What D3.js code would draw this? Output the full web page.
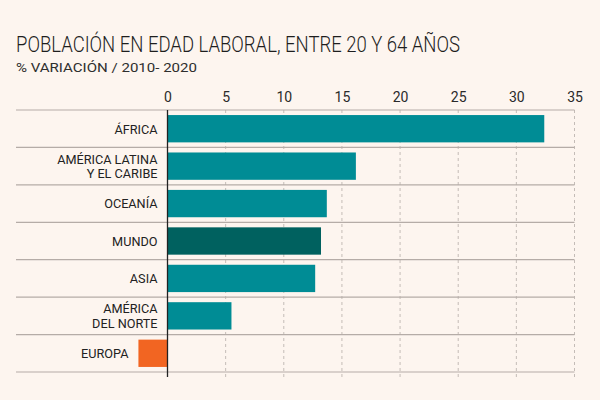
<!DOCTYPE html>
<html>
<head>
<meta charset="utf-8">
<script src="https://cdn.jsdelivr.net/npm/d3@7"></script>
<style>
  html, body { margin: 0; padding: 0; background: #fdf5ef; }
  svg { display: block; }
  text { font-family: "Roboto", "Liberation Sans Narrow", sans-serif; }
</style>
</head>
<body>
<svg id="chart" width="600" height="400"></svg>
<script>
// Data
const categories = ["ÁFRICA", "AMÉRICA LATINA\nY EL CARIBE", "OCEANÍA", "MUNDO", "ASIA", "AMÉRICA\nDEL NORTE", "EUROPA"];
const values = [32.4, 16.2, 13.7, 13.2, 12.7, 5.5, -2.5];
const barColors = ["#008c95", "#008c95", "#008c95", "#00615f", "#008c95", "#008c95", "#f26522"];
const tickValues = [0, 5, 10, 15, 20, 25, 30, 35];
const title = "POBLACIÓN EN EDAD LABORAL, ENTRE 20 Y 64 AÑOS";
const subtitle = "% VARIACIÓN / 2010- 2020";

const svg = d3.select("#chart");
svg.append("rect").attr("width", 600).attr("height", 400).attr("fill", "#fdf5ef");

const x = d3.scaleLinear().domain([0, 35]).range([167.5, 574.5]);
const p = 0.27;
const y = d3.scaleBand().domain(categories).range([110, 372]).paddingInner(p).paddingOuter(p / 2);
const step = y.step();

// Title
svg.append("text")
  .attr("x", 16).attr("y", 52)
  .attr("font-size", 22.5).attr("font-weight", 300)
  .attr("fill", "#1e1e1e")
  .attr("textLength", 444).attr("lengthAdjust", "spacingAndGlyphs")
  .text(title);
svg.append("text")
  .attr("x", 16).attr("y", 72)
  .attr("font-size", 13.5).attr("font-weight", 400)
  .attr("fill", "#2e2e2e")
  .attr("textLength", 181).attr("lengthAdjust", "spacingAndGlyphs")
  .text(subtitle);

// Gridlines (dashed)
svg.append("g").selectAll("line")
  .data(tickValues.filter(d => d !== 0))
  .join("line")
  .attr("x1", d => x(d)).attr("x2", d => x(d))
  .attr("y1", 110).attr("y2", 377)
  .attr("stroke", "#c4bcb7").attr("stroke-width", 1)
  .attr("stroke-dasharray", "3,3");

// Horizontal separators
const sepYs = categories.map(c => y(c) - step * p / 2).concat([372]);
svg.append("g").selectAll("line")
  .data(sepYs)
  .join("line")
  .attr("x1", 16).attr("x2", 574.5)
  .attr("y1", d => d).attr("y2", d => d)
  .attr("stroke", "#b5aca7").attr("stroke-width", 1.2);

// Bars
svg.append("g").selectAll("rect")
  .data(categories)
  .join("rect")
  .attr("x", (c, i) => x(Math.min(0, values[i])))
  .attr("width", (c, i) => Math.abs(x(values[i]) - x(0)))
  .attr("y", c => y(c))
  .attr("height", y.bandwidth())
  .attr("fill", (c, i) => barColors[i]);

// Zero axis line
svg.append("line")
  .attr("x1", x(0)).attr("x2", x(0))
  .attr("y1", 110).attr("y2", 377)
  .attr("stroke", "#222").attr("stroke-width", 1.3);

// Top axis tick labels
const axis = d3.axisTop(x).tickValues(tickValues).tickSize(0).tickPadding(0).tickFormat(d3.format("d"));
const gAxis = svg.append("g").attr("transform", "translate(0,102)").call(axis);
gAxis.select(".domain").remove();
gAxis.selectAll("text")
  .attr("font-size", 14)
  .attr("fill", "#2a2a2a")
  .attr("dy", 0)
  .style("font-family", "Roboto, sans-serif");

// Category labels
const lh = 14.5;
const labelG = svg.append("g");
categories.forEach((c, i) => {
  const lines = c.split("\n");
  lines.forEach((ln, k) => {
    labelG.append("text")
      .attr("text-anchor", "end")
      .attr("font-size", 13.5)
      .attr("fill", "#222")
      .attr("dy", "0.36em")
      .attr("transform", `translate(${x(Math.min(0, values[i])) - 10},${y(c) + y.bandwidth() / 2 + (k - (lines.length - 1) / 2) * lh}) scale(0.94,1)`)
      .text(ln);
  });
});
</script>
</body>
</html>
